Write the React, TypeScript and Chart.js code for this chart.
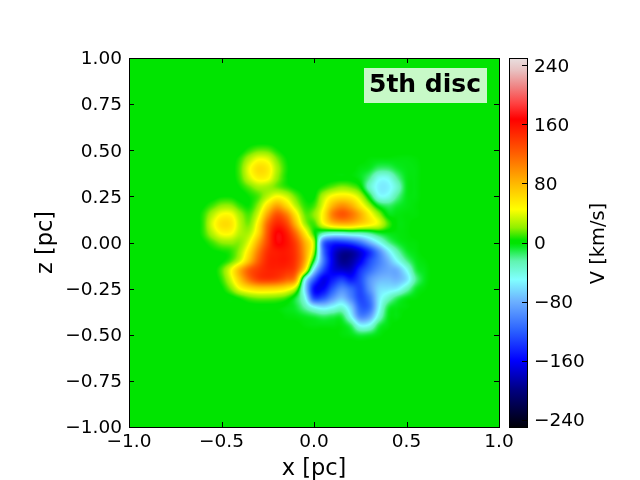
// App.tsx
import React, { useEffect, useRef } from 'react';
import Chart from 'chart.js/auto';

const xNodes = [-0.65, -0.6, -0.55, -0.5, -0.45, -0.4, -0.35, -0.3, -0.25, -0.2, -0.15, -0.1, -0.05, 0, 0.05, 0.1, 0.15, 0.2, 0.25, 0.3, 0.35, 0.4, 0.45, 0.5, 0.55, 0.6, 0.65];
const zNodes = [0.55, 0.5, 0.45, 0.4, 0.35, 0.3, 0.25, 0.2, 0.15, 0.1, 0.05, 0, -0.05, -0.1, -0.15, -0.2, -0.25, -0.3, -0.35, -0.4, -0.45, -0.5, -0.55];

// line-of-sight velocity, one row per zNodes entry
const velocity = [
  [0, 0, 0, 0, 0, 0, 0, 0, 0, 0, 0, 0, 0, 0, 0, 0, 0, 0, 0, 0, 0, 0, 0, 0, 0, 0, 0],
  [0, 0, 0, 0, 0, 0, 8, 15, 14, 5, 0, 0, 0, 0, 0, 0, 0, 0, 0, 0, 0, 0, 0, 0, 0, 0, 0],
  [0, 0, 0, 0, 0, 8, 28, 44, 40, 18, 4, 0, 0, 0, 0, 0, 0, 0, 0, -2, -3, -3, -3, -3, -2, 0, 0],
  [0, 0, 0, 0, 0, 12, 42, 62, 55, 26, 6, 0, 0, 0, 0, 0, 0, 0, -3, -6, -16, -16, -8, -4, -3, 0, 0],
  [0, 0, 0, 0, 0, 10, 35, 52, 48, 22, 5, 0, 0, 0, 0, 0, 0, 0, -5, -20, -45, -45, -22, -5, -3, 0, 0],
  [0, 0, 0, 0, 0, 4, 14, 25, 24, 16, 8, 2, 0, 0, 6, 14, 20, 16, 4, -32, -55, -55, -35, -6, -3, 0, 0],
  [0, 0, 0, 3, 3, 0, 4, 12, 30, 45, 35, 15, 3, 2, 28, 48, 55, 50, 30, -6, -45, -45, -22, -5, -3, 0, 0],
  [0, 2, 10, 20, 20, 8, 4, 22, 60, 88, 65, 30, 8, 10, 40, 80, 98, 85, 55, 24, -6, -15, -8, -4, -2, 0, 0],
  [0, 7, 28, 46, 46, 24, 12, 38, 92, 128, 108, 58, 16, 20, 52, 105, 125, 112, 85, 52, 24, -2, -3, -2, -2, 0, 0],
  [0, 8, 38, 60, 58, 30, 18, 55, 118, 150, 135, 82, 26, 10, 42, 70, 80, 78, 65, 52, 38, 12, -2, -2, 0, 0, 0],
  [0, 7, 28, 46, 46, 28, 28, 65, 128, 168, 155, 115, 58, 6, -25, -35, -35, -30, -28, -20, -8, -4, -3, -2, 0, 0, 0],
  [0, 2, 10, 20, 22, 20, 42, 88, 135, 168, 160, 135, 85, 28, -110, -140, -140, -130, -110, -80, -50, -22, -8, -3, -2, 0, 0],
  [0, 0, 2, 4, 8, 24, 60, 108, 145, 155, 155, 140, 92, 22, -110, -165, -190, -190, -170, -140, -100, -60, -28, -8, -3, 0, 0],
  [0, 0, 0, 2, 12, 36, 78, 122, 150, 155, 155, 140, 88, -8, -105, -165, -195, -190, -165, -130, -105, -80, -50, -22, -6, -2, 0],
  [0, 0, 0, 12, 42, 85, 122, 140, 150, 150, 145, 130, 55, -60, -130, -165, -175, -175, -140, -115, -95, -85, -80, -50, -12, -4, 0],
  [0, 0, 0, 8, 35, 75, 112, 135, 140, 135, 120, 95, -40, -120, -165, -150, -135, -150, -130, -95, -78, -75, -78, -62, -22, -5, 0],
  [0, 0, 0, 2, 18, 45, 60, 68, 68, 65, 55, 28, -60, -155, -160, -125, -100, -115, -130, -95, -65, -60, -55, -32, -8, -2, 0],
  [0, 0, 0, 0, 0, 6, 14, 18, 18, 16, 10, -8, -45, -130, -125, -95, -75, -100, -130, -110, -60, -35, -15, -5, -2, 0, 0],
  [0, 0, 0, 0, 0, 0, 0, 0, 0, 0, -3, -8, -25, -50, -60, -50, -40, -70, -120, -115, -55, -12, -4, -2, 0, 0, 0],
  [0, 0, 0, 0, 0, 0, 0, 0, 0, 0, -2, -3, -6, -10, -15, -12, -12, -50, -100, -90, -40, -6, -3, 0, 0, 0, 0],
  [0, 0, 0, 0, 0, 0, 0, 0, 0, 0, 0, 0, -2, -3, -3, -3, -3, -15, -50, -45, -12, -3, 0, 0, 0, 0, 0],
  [0, 0, 0, 0, 0, 0, 0, 0, 0, 0, 0, 0, 0, 0, 0, 0, -2, -4, -10, -8, -3, 0, 0, 0, 0, 0, 0],
  [0, 0, 0, 0, 0, 0, 0, 0, 0, 0, 0, 0, 0, 0, 0, 0, 0, 0, 0, 0, 0, 0, 0, 0, 0, 0, 0],
];

const colorLevels = [-250, -200, -160, -120, -80, -50, -25, -6, -1, 3, 20, 45, 80, 120, 167, 188, 210, 233, 250];
const colorValues = ['#000008', '#000080', '#0000ff', '#2a60ff', '#6cb0ff', '#80ffff', '#60f4b0', '#08ea20', '#00e400', '#00e400', '#90f000', '#ffff00', '#ffb800', '#ff6000', '#ff0000', '#ff4040', '#f08080', '#e8c0c0', '#e8e0e0'];
const colorbarTicks = [240, 160, 80, 0, -80, -160, -240];

const FONT = '"DejaVu Sans"';
const TICK_SIZE = 18.5;

const hexToRgb = (hex: string) => [1, 3, 5].map(i => parseInt(hex.slice(i, i + 2), 16));
const colorRgb = colorValues.map(hexToRgb);

const colorFor = (v: number) => {
  if (v <= colorLevels[0]) return colorRgb[0];
  for (let i = 1; i < colorLevels.length; i++) {
    if (v <= colorLevels[i]) {
      const t = (v - colorLevels[i - 1]) / (colorLevels[i] - colorLevels[i - 1]);
      return colorRgb[i].map((c, k) => colorRgb[i - 1][k] + (c - colorRgb[i - 1][k]) * t);
    }
  }
  return colorRgb[colorRgb.length - 1];
};

const cubic = (a: number, b: number, c: number, d: number, t: number) =>
  b + 0.5 * t * (c - a + t * (2 * a - 5 * b + 4 * c - d + t * (3 * (b - c) + d - a)));

// bicubic lookup, same idea as imshow(interpolation='bicubic')
const sample = (x: number, z: number) => {
  const fx = (x - xNodes[0]) / 0.05;
  const fz = (zNodes[0] - z) / 0.05;
  const nx = xNodes.length;
  const nz = zNodes.length;
  if (fx < 0 || fz < 0 || fx > nx - 1 || fz > nz - 1) return 0;
  const ix = Math.min(Math.floor(fx), nx - 2);
  const iz = Math.min(Math.floor(fz), nz - 2);
  const at = (r: number, c: number) => velocity[Math.max(0, Math.min(nz - 1, r))][Math.max(0, Math.min(nx - 1, c))];
  const rows = [-1, 0, 1, 2].map(dr =>
    cubic(at(iz + dr, ix - 1), at(iz + dr, ix), at(iz + dr, ix + 1), at(iz + dr, ix + 2), fx - ix)
  );
  return cubic(rows[0], rows[1], rows[2], rows[3], fz - iz);
};

// y tick labels sit a little lower in the reference than textBaseline middle
const nudgeLabels = {
  id: 'nudgeLabels',
  beforeDraw(chart: any) {
    chart.scales.y.getLabelItems().forEach((item: any) => {
      item.options.translation[1] += 1.5;
    });
  },
};

const heatmapPlugin = {
  id: 'heatmap',
  beforeDatasetsDraw(chart: any) {
    const { ctx, chartArea, scales } = chart;
    const w = Math.round(chartArea.right - chartArea.left);
    const h = Math.round(chartArea.bottom - chartArea.top);
    const img = ctx.createImageData(w, h);
    for (let py = 0; py < h; py++) {
      const z = scales.y.getValueForPixel(chartArea.top + py + 0.5);
      for (let px = 0; px < w; px++) {
        const x = scales.x.getValueForPixel(chartArea.left + px + 0.5);
        const c = colorFor(sample(x, z));
        const o = (py * w + px) * 4;
        img.data[o] = c[0];
        img.data[o + 1] = c[1];
        img.data[o + 2] = c[2];
        img.data[o + 3] = 255;
      }
    }
    ctx.putImageData(img, Math.round(chartArea.left), Math.round(chartArea.top));
  },
};

const framePlugin = {
  id: 'frame',
  afterDatasetsDraw(chart: any) {
    const { ctx, chartArea: a, scales } = chart;
    ctx.save();
    ctx.strokeStyle = '#000';
    ctx.lineWidth = 1;
    ctx.beginPath();
    scales.x.ticks.forEach((t: any) => {
      const p = Math.round(scales.x.getPixelForValue(t.value)) + 0.5;
      ctx.moveTo(p, a.bottom);
      ctx.lineTo(p, a.bottom - 5);
      ctx.moveTo(p, a.top);
      ctx.lineTo(p, a.top + 5);
    });
    scales.y.ticks.forEach((t: any) => {
      const p = Math.round(scales.y.getPixelForValue(t.value)) + 0.5;
      ctx.moveTo(a.left, p);
      ctx.lineTo(a.left + 5, p);
      ctx.moveTo(a.right, p);
      ctx.lineTo(a.right - 5, p);
    });
    ctx.stroke();
    ctx.strokeRect(a.left + 0.5, a.top + 0.5, a.right - a.left, a.bottom - a.top);

    // annotation box
    ctx.fillStyle = 'rgba(255,255,255,0.78)';
    ctx.fillRect(364, 68, 123, 35);
    ctx.fillStyle = '#000';
    ctx.font = `bold 25px ${FONT}`;
    ctx.textBaseline = 'alphabetic';
    ctx.textAlign = 'left';
    ctx.fillText('5th disc', 369, 92);
    ctx.restore();
  },
};

const colorbarPlugin = {
  id: 'colorbarFrame',
  afterDatasetsDraw(chart: any) {
    const { ctx, chartArea: a, scales } = chart;
    ctx.save();
    ctx.strokeStyle = '#000';
    ctx.lineWidth = 1;
    ctx.beginPath();
    scales.y.ticks.forEach((t: any) => {
      const p = Math.round(scales.y.getPixelForValue(t.value)) + 0.5;
      ctx.moveTo(a.right, p);
      ctx.lineTo(a.right - 5, p);
    });
    ctx.stroke();
    ctx.strokeRect(a.left + 0.5, a.top + 0.5, a.right - a.left, a.bottom - a.top);
    ctx.fillStyle = '#000';
    ctx.font = `19.4px ${FONT}`;
    ctx.textAlign = 'center';
    ctx.textBaseline = 'middle';
    ctx.translate(599, (a.top + a.bottom) / 2 + 1);
    ctx.rotate(-Math.PI / 2);
    ctx.fillText('V [km/s]', 0, 0);
    ctx.restore();
  },
};

const minus = (s: string) => s.replace('-', '\u2212');

const App: React.FC = () => {
  const mainRef = useRef<HTMLCanvasElement>(null);
  const barRef = useRef<HTMLCanvasElement>(null);

  useEffect(() => {
    if (!mainRef.current || !barRef.current) return;
    document.body.style.margin = '0';

    const cells = zNodes.flatMap((z, r) => xNodes.map((x, c) => ({ x, y: z, v: velocity[r][c] })));

    const main = new Chart(mainRef.current, {
      type: 'scatter',
      data: { datasets: [{ data: cells, pointRadius: 0, pointHoverRadius: 0 }] },
      options: {
        animation: false,
        responsive: false,
        devicePixelRatio: 1,
        layout: { padding: { left: 33, right: 141, top: 58, bottom: 0 } },
        plugins: { legend: { display: false }, tooltip: { enabled: false } },
        scales: {
          x: {
            type: 'linear',
            min: -1,
            max: 1,
            grid: { display: false, drawTicks: false },
            border: { display: false },
            afterFit: (s: any) => { s.height = 53; },
            title: { display: true, text: 'x [pc]', color: '#000', padding: 0, font: { family: FONT, size: 22.5, lineHeight: 1 } },
            ticks: {
              stepSize: 0.5,
              padding: 4,
              maxRotation: 0,
              color: '#000',
              font: { family: FONT, size: TICK_SIZE },
              callback: (v: any) => minus(Number(v).toFixed(1)),
            },
          },
          y: {
            type: 'linear',
            min: -1,
            max: 1,
            grid: { display: false, drawTicks: false },
            border: { display: false },
            afterFit: (s: any) => { s.width = 96; },
            title: { display: true, text: 'z [pc]', color: '#000', padding: 0, font: { family: FONT, size: 22.5 } },
            ticks: {
              stepSize: 0.25,
              padding: 7,
              color: '#000',
              font: { family: FONT, size: TICK_SIZE },
              callback: (v: any) => minus(Number(v).toFixed(2)),
            },
          },
        },
      },
      plugins: [nudgeLabels, heatmapPlugin, framePlugin],
    } as any);

    const bar = new Chart(barRef.current, {
      type: 'bar',
      data: {
        labels: ['V'],
        datasets: [{
          data: [[colorLevels[0], colorLevels[colorLevels.length - 1]]],
          barPercentage: 1,
          categoryPercentage: 1,
          backgroundColor: (c: any) => {
            const { chartArea, scales } = c.chart;
            if (!chartArea) return '#000';
            const g = c.chart.ctx.createLinearGradient(0, scales.y.bottom, 0, scales.y.top);
            colorLevels.forEach((lv, i) => {
              g.addColorStop((lv - colorLevels[0]) / (colorLevels[colorLevels.length - 1] - colorLevels[0]), colorValues[i]);
            });
            return g;
          },
        }],
      },
      options: {
        animation: false,
        responsive: false,
        devicePixelRatio: 1,
        layout: { padding: { left: 509, right: 0, top: 58, bottom: 53 } },
        plugins: { legend: { display: false }, tooltip: { enabled: false } },
        scales: {
          x: { display: false },
          y: {
            position: 'right',
            min: -250,
            max: 250,
            grid: { display: false, drawTicks: false },
            border: { display: false },
            afterFit: (s: any) => { s.width = 113; },
            afterBuildTicks: (s: any) => { s.ticks = colorbarTicks.map(value => ({ value })); },
            ticks: {
              padding: 7,
              color: '#000',
              font: { family: FONT, size: TICK_SIZE },
              callback: (v: any) => minus(String(v)),
            },
          },
        },
      },
      plugins: [nudgeLabels, colorbarPlugin],
    } as any);

    return () => {
      main.destroy();
      bar.destroy();
    };
  }, []);

  return (
    <div style={{ position: 'relative', width: 640, height: 480, background: '#fff' }}>
      <canvas ref={mainRef} width={640} height={480} style={{ position: 'absolute', left: 0, top: 0 }}></canvas>
      <canvas ref={barRef} width={640} height={480} style={{ position: 'absolute', left: 0, top: 0 }}></canvas>
    </div>
  );
};

export default App;
